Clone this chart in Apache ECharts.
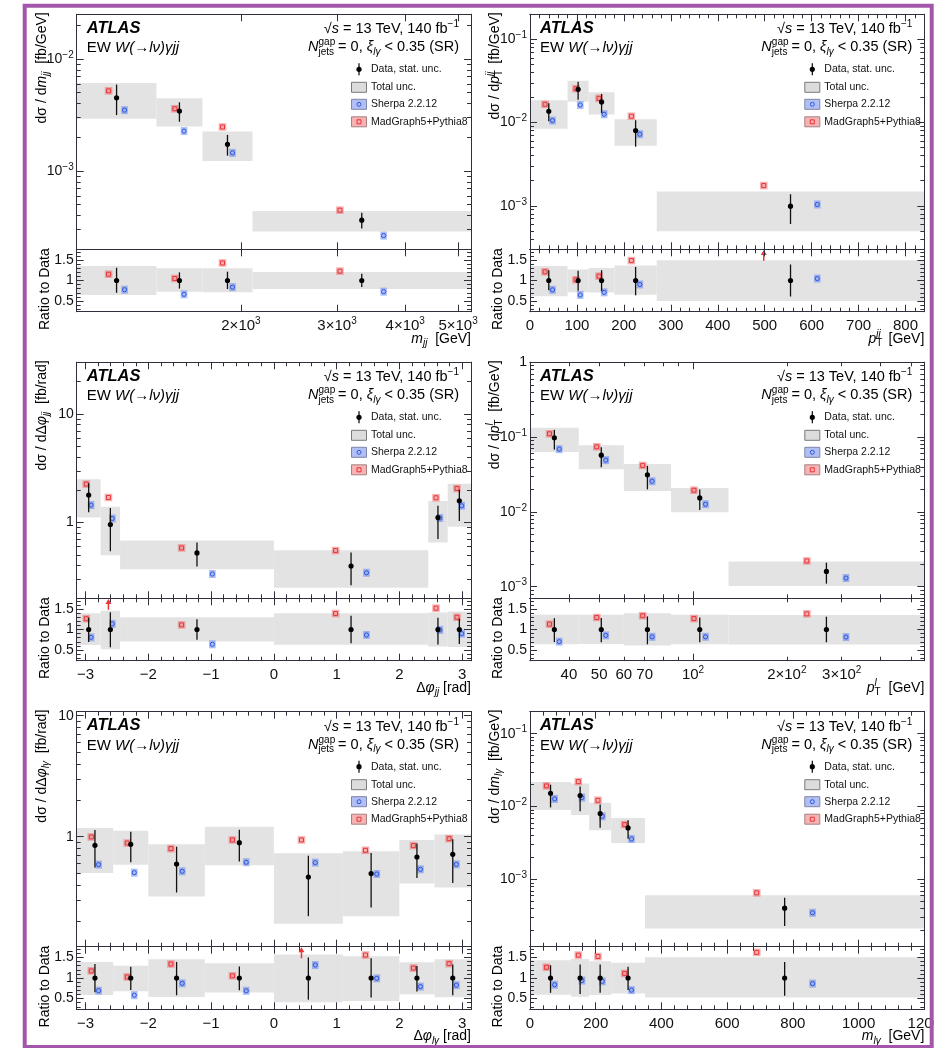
<!DOCTYPE html>
<html><head><meta charset="utf-8">
<script src="https://cdn.jsdelivr.net/npm/echarts@6/dist/echarts.min.js"></script>
<style>html,body{margin:0;padding:0;background:#fff}#c{width:944px;height:1048px}</style>
</head><body><div id="c"></div>
<script>
// ================= DATA =================
// m_jj
const mjjEdges = [1000, 1400, 1700, 2100, 5280];
const mjjData = [4.50e-3, 3.42e-3, 1.73e-3, 3.64e-4];
const mjjStatLo = [3.15e-3, 2.75e-3, 1.37e-3, 3.07e-4];
const mjjStatHi = [5.90e-3, 4.10e-3, 2.10e-3, 4.23e-4];
const mjjTotLo = [2.92e-3, 2.49e-3, 1.23e-3, 2.88e-4];
const mjjTotHi = [6.08e-3, 4.45e-3, 2.25e-3, 4.40e-4];
const mjjSherpa = [3.49e-3, 2.27e-3, 1.45e-3, 2.65e-4];
const mjjMadGraph = [5.19e-3, 3.59e-3, 2.47e-3, 4.47e-4];
const mjjXTicks = [2000, 3000, 4000, 5000];
const mjjYTicks = [1e-3, 1e-2];
// pT^jj
const ptjjEdges = [0, 80, 125, 180, 270, 840];
const ptjjData = [0.01368, 0.0251, 0.01768, 8.02e-3, 9.9e-4];
const ptjjStatLo = [0.0104, 0.01877, 0.01308, 5.13e-3, 6.04e-4];
const ptjjStatHi = [0.0171, 0.0310, 0.0221, 0.01067, 1.376e-3];
const ptjjTotLo = [8.40e-3, 0.01784, 0.01246, 5.26e-3, 4.96e-4];
const ptjjTotHi = [0.01852, 0.0318, 0.02309, 0.01096, 1.48e-3];
const ptjjSherpa = [0.01057, 0.01628, 0.01258, 7.25e-3, 1.037e-3];
const ptjjMadGraph = [0.01658, 0.02553, 0.01956, 0.01191, 1.75e-3];
const ptjjXTicks = [0, 100, 200, 300, 400, 500, 600, 700, 800];
const ptjjYTicks = [1e-3, 1e-2, 1e-1];
// delta phi_jj
const dphijjEdges = [-3.1416, -2.76, -2.45, 0, 2.46, 2.77, 3.1416];
const dphijjData = [1.79, 0.958, 0.524, 0.397, 1.112, 1.587];
const dphijjStatLo = [1.24, 0.543, 0.392, 0.264, 0.705, 1.03];
const dphijjStatHi = [2.30, 1.36, 0.655, 0.53, 1.43, 2.0];
const dphijjTotLo = [1.11, 0.498, 0.370, 0.25, 0.653, 0.912];
const dphijjTotHi = [2.50, 1.397, 0.681, 0.554, 1.575, 2.28];
const dphijjSherpa = [1.447, 1.089, 0.335, 0.344, 1.10, 1.427];
const dphijjMadGraph = [2.26, 1.70, 0.583, 0.551, 1.69, 2.06];
const dphiXTicks = [-3, -2, -1, 0, 1, 2, 3];
const dphijjYTicks = [1, 10];
// pT^l
const ptlEdges = [30, 43, 60, 85, 130, 552];
const ptlData = [0.098, 0.0574, 0.0313, 0.0154, 1.60e-3];
const ptlStatLo = [0.068, 0.0396, 0.020, 0.0106, 1.1e-3];
const ptlStatHi = [0.125, 0.0734, 0.0413, 0.0199, 2.1e-3];
const ptlTotLo = [0.0630, 0.0372, 0.0191, 0.0099, 1.02e-3];
const ptlTotHi = [0.1335, 0.078, 0.0437, 0.0209, 2.17e-3];
const ptlSherpa = [0.069, 0.0492, 0.0257, 0.01267, 1.306e-3];
const ptlMadGraph = [0.1108, 0.0742, 0.0418, 0.0195, 2.21e-3];
const ptlXTicks = [40, 50, 60, 70, 100, 200, 300];
const ptlYTicks = [1e-3, 1e-2, 1e-1, 1];
// delta phi_lgamma
const dphilyEdges = [-3.1416, -2.56, -2.0, -1.1, 0, 1.1, 2.0, 2.56, 3.1416];
const dphilyData = [0.848, 0.864, 0.594, 0.892, 0.464, 0.495, 0.679, 0.714];
const dphilyStatLo = [0.555, 0.613, 0.345, 0.624, 0.220, 0.260, 0.455, 0.414];
const dphilyStatHi = [1.136, 1.10, 0.826, 1.142, 0.696, 0.733, 0.876, 0.95];
const dphilyTotLo = [0.50, 0.585, 0.32, 0.58, 0.19, 0.22, 0.41, 0.38];
const dphilyTotHi = [1.18, 1.12, 0.864, 1.21, 0.728, 0.757, 0.939, 1.04];
const dphilySherpa = [0.587, 0.504, 0.517, 0.614, 0.61, 0.491, 0.537, 0.59];
const dphilyMadGraph = [0.994, 0.886, 0.796, 0.939, 0.939, 0.771, 0.843, 0.963];
const dphilyYTicks = [1, 10];
// m_lgamma
const mlyEdges = [0, 125, 180, 247, 350, 1200];
const mlyData = [0.01523, 0.01415, 8.02e-3, 5.1e-3, 4.05e-4];
const mlyStatLo = [9.75e-3, 8.63e-3, 5.13e-3, 3.62e-3, 2.31e-4];
const mlyStatHi = [0.01995, 0.01882, 0.01067, 6.5e-3, 5.63e-4];
const mlyTotLo = [9.0e-3, 7.7e-3, 4.73e-3, 3.18e-3, 2.13e-4];
const mlyTotHi = [0.0218, 0.0207, 0.0113, 7.0e-3, 6.1e-4];
const mlySherpa = [0.01274, 0.01328, 7.37e-3, 3.6e-3, 3.5e-4];
const mlyMadGraph = [0.0192, 0.0220, 0.0122, 5.67e-3, 6.57e-4];
const mlyXTicks = [0, 200, 400, 600, 800, 1000, 1200];
const mlyYTicks = [1e-3, 1e-2, 1e-1];
// ratio panels
const ratioTicks = [0.5, 1, 1.5];
const legendLabels = ['Data, stat. unc.', 'Total unc.', 'Sherpa 2.2.12', 'MadGraph5+Pythia8'];

// ================= STYLE / LAYOUT =================
const FONT = '"Liberation Sans", Arial, Helvetica, sans-serif';
const AXC = '#30303c';
const TMAJ = 7, TMIN = 4;
const RATIO_RANGE = [0.24, 1.76];
const RED = '#e8343a', BLUE = '#2a55e5';

function rnd(v){ return Math.round(v * 1e6) / 1e6; }
function linTicks(a, b, step, skip){ const o=[]; for (let v=Math.ceil(a/step-1e-9)*step; v<=b+1e-9; v+=step){ const r=rnd(v); if (!skip || Math.abs(r/skip - Math.round(r/skip))>1e-6) o.push(r);} return o; }
function logMinor(a, b){ const o=[]; for (let e=-6;e<=3;e++) for (let k=2;k<=9;k++){ const v=rnd(k*Math.pow(10,e)); if (v>=a && v<=b) o.push(v);} return o; }
const ratioMinor = linTicks(0.3, 1.7, 0.1, 0.5);

function minusStr(v){ return v < 0 ? '\u2212' + (-v) : String(v); }
function powFmt(v){ if (Math.abs(v-1)<1e-9) return '{b|1}'; if (Math.abs(v-10)<1e-9) return '{b|10}'; const e=Math.round(Math.log10(v)); return '{b|10}{s|\u2212'+(-e)+'}'; }

const PANELS = [
 {f:{L:76.7,R:471,T:14.3,S:249.3,B:311.7}, edges:mjjEdges, data:mjjData, sLo:mjjStatLo, sHi:mjjStatHi, tLo:mjjTotLo, tHi:mjjTotHi, sh:mjjSherpa, mg:mjjMadGraph,
  xType:'log', xr:[1000,5280], yr:[2e-4,0.025], xLab:mjjXTicks, xMaj:[1000,2000,3000,4000,5000], xMin:[], yLab:mjjYTicks,
  xFmt: v => '{b|'+(v/1000)+'\u00d710}{s|3}',
  yTitle:'{n|d\u03c3 / d}{i|m}{sub|jj}{n|  [fb/GeV]}', xTitle:'{i|m}{sub|jj}{n|  [GeV]}'},
 {f:{L:530,R:924.3,T:14.3,S:249.3,B:311.7}, edges:ptjjEdges, data:ptjjData, sLo:ptjjStatLo, sHi:ptjjStatHi, tLo:ptjjTotLo, tHi:ptjjTotHi, sh:ptjjSherpa, mg:ptjjMadGraph,
  xType:'value', xr:[0,840], yr:[3e-4,0.2], xLab:ptjjXTicks, xMaj:linTicks(0,840,100), xMin:linTicks(0,840,20,100), yLab:ptjjYTicks,
  xFmt: v => '{b|'+v+'}',
  yTitle:'{n|d\u03c3 / d}{i|p}{subzu|T}{sup|jj}{n|  [fb/GeV]}', xTitle:'{i|p}{subzu|T}{sup|jj}{n|  [GeV]}'},
 {f:{L:76.7,R:471,T:362.3,S:598.3,B:660.7}, edges:dphijjEdges, data:dphijjData, sLo:dphijjStatLo, sHi:dphijjStatHi, tLo:dphijjTotLo, tHi:dphijjTotHi, sh:dphijjSherpa, mg:dphijjMadGraph,
  xType:'value', xr:[-Math.PI,Math.PI], yr:[0.2,30], xLab:dphiXTicks, xMaj:linTicks(-3.2,3.2,1), xMin:linTicks(-3.2,3.2,0.2,1), yLab:dphijjYTicks,
  xFmt: v => '{b|'+minusStr(v)+'}',
  yTitle:'{n|d\u03c3 / d\u0394}{i|\u03c6}{sub|jj}{n|  [fb/rad]}', xTitle:'{n|\u0394}{i|\u03c6}{sub|jj}{n| [rad]}'},
 {f:{L:530,R:924.3,T:362.3,S:598.3,B:660.7}, edges:ptlEdges, data:ptlData, sLo:ptlStatLo, sHi:ptlStatHi, tLo:ptlTotLo, tHi:ptlTotHi, sh:ptlSherpa, mg:ptlMadGraph,
  xType:'log', xr:[30,552], yr:[7e-4,1], xLab:ptlXTicks, xMaj:[100], xMin:[40,50,60,70,80,90,200,300,400,500], yLab:ptlYTicks,
  xFmt: v => v<100 ? '{b|'+v+'}' : (v===100 ? '{b|10}{s|2}' : '{b|'+(v/100)+'\u00d710}{s|2}'),
  yTitle:'{n|d\u03c3 / d}{i|p}{supz|l}{subu|T}{n|  [fb/GeV]}', xTitle:'{i|p}{supz|l}{subu|T}{n|  [GeV]}'},
 {f:{L:76.7,R:471,T:711.7,S:946.7,B:1009.3}, edges:dphilyEdges, data:dphilyData, sLo:dphilyStatLo, sHi:dphilyStatHi, tLo:dphilyTotLo, tHi:dphilyTotHi, sh:dphilySherpa, mg:dphilyMadGraph,
  xType:'value', xr:[-Math.PI,Math.PI], yr:[0.123,10.8], xLab:dphiXTicks, xMaj:linTicks(-3.2,3.2,1), xMin:linTicks(-3.2,3.2,0.2,1), yLab:dphilyYTicks,
  xFmt: v => '{b|'+minusStr(v)+'}',
  yTitle:'{n|d\u03c3 / d\u0394}{i|\u03c6}{sub|l\u03b3}{n|  [fb/rad]}', xTitle:'{n|\u0394}{i|\u03c6}{sub|l\u03b3}{n| [rad]}'},
 {f:{L:530,R:924.3,T:711.7,S:946.7,B:1009.3}, edges:mlyEdges, data:mlyData, sLo:mlyStatLo, sHi:mlyStatHi, tLo:mlyTotLo, tHi:mlyTotHi, sh:mlySherpa, mg:mlyMadGraph,
  xType:'value', xr:[0,1200], yr:[1.2e-4,0.2], xLab:mlyXTicks, xMaj:linTicks(0,1200,200), xMin:linTicks(0,1200,40,200), yLab:mlyYTicks,
  xFmt: v => '{b|'+v+'}',
  yTitle:'{n|d\u03c3 / d}{i|m}{sub|l\u03b3}{n|  [fb/GeV]}', xTitle:'{i|m}{sub|l\u03b3}{n|  [GeV]}'}
];
PANELS.forEach(p => { p.yMaj = p.yLab; p.yMinT = logMinor(p.yr[0], p.yr[1]); });

function axisRich(sz){ const s=Math.round(sz*0.68); return { b:{fontSize:sz, fontFamily:FONT, color:'#111', lineHeight:sz+4}, s:{fontSize:s, fontFamily:FONT, color:'#111', lineHeight:s, verticalAlign:'top'} }; }

function mkAxis(gi, pos, type, range, ticks, len, labels, fmt, lsz, margin){
  const a = { type:type, gridIndex:gi, position:pos, min:range[0], max:range[1], z:10,
    axisLine:{show:true, onZero:false, lineStyle:{color:AXC, width:1}},
    axisTick:{show:ticks.length>0, inside:true, length:len, customValues:ticks, lineStyle:{color:AXC, width:1}},
    axisLabel: labels ? {show:true, customValues:labels, formatter:fmt, margin:margin, rich:axisRich(lsz), color:'#111', fontFamily:FONT, fontSize:lsz} : {show:false},
    splitLine:{show:false}, minorTick:{show:false}, minorSplitLine:{show:false}, silent:true };
  if (type==='log') a.logBase = 10;
  return a;
}

const grids=[], xAxes=[], yAxes=[], series=[], graphics=[];

function addGrid(p, isRatio){
  const f = p.f, gi = grids.length;
  const top = isRatio ? f.S : f.T, bot = isRatio ? f.B : f.S;
  grids.push({left:f.L, top:top, width:f.R-f.L, height:bot-top, show:false, containLabel:false, outerBoundsMode:'none'});
  const xi = xAxes.length;
  xAxes.push(mkAxis(gi,'bottom',p.xType,p.xr,p.xMaj,TMAJ, isRatio?p.xLab:null, p.xFmt, 15, 5));
  xAxes.push(mkAxis(gi,'bottom',p.xType,p.xr,p.xMin,TMIN,null));
  xAxes.push(mkAxis(gi,'top',p.xType,p.xr,p.xMaj,TMAJ,null));
  xAxes.push(mkAxis(gi,'top',p.xType,p.xr,p.xMin,TMIN,null));
  const yi = yAxes.length;
  const yType = isRatio ? 'value' : 'log', yr = isRatio ? RATIO_RANGE : p.yr;
  const yMaj = isRatio ? ratioTicks : p.yMaj, yMin = isRatio ? ratioMinor : p.yMinT;
  yAxes.push(mkAxis(gi,'left',yType,yr,yMaj,TMAJ, isRatio?ratioTicks:p.yLab, isRatio ? (v=>'{b|'+v+'}') : powFmt, 14, 3));
  yAxes.push(mkAxis(gi,'left',yType,yr,yMin,TMIN,null));
  yAxes.push(mkAxis(gi,'right',yType,yr,yMaj,TMAJ,null));
  yAxes.push(mkAxis(gi,'right',yType,yr,yMin,TMIN,null));
  return [xi, yi];
}

function bandSeries(xi, yi, items){
  return {type:'custom', xAxisIndex:xi, yAxisIndex:yi, clip:true, z:2, silent:true, animation:false,
    encode:{x:[0,1], y:[2,3]}, data:items,
    renderItem:function(params, api){
      const a = api.coord([api.value(0), api.value(2)]);
      const b = api.coord([api.value(1), api.value(3)]);
      return {type:'rect', shape:{x:a[0], y:b[1], width:b[0]-a[0], height:a[1]-b[1]}, style:{fill:'#e3e3e3'}};
    }};
}
function mcSeries(xi, yi, items, side, isRatio){
  return {type:'custom', xAxisIndex:xi, yAxisIndex:yi, clip:false, z:3, silent:true, animation:false,
    encode:{x:[0,1], y:2}, data:items,
    renderItem:function(params, api){
      const val = api.value(2);
      const a = api.coord([api.value(0), isRatio?1:val]);
      const b = api.coord([api.value(1), isRatio?1:val]);
      const w = b[0]-a[0];
      const xc = (a[0]+b[0])/2 + side*0.1*w;
      if (isRatio && val > RATIO_RANGE[1]-0.02){
        const y0 = api.coord([api.value(0), 1.48])[1], y1 = api.coord([api.value(0), 1.745])[1];
        return {type:'group', children:[
          {type:'line', shape:{x1:xc,y1:y0,x2:xc,y2:y1+4}, style:{stroke:RED, lineWidth:1.5}},
          {type:'polygon', shape:{points:[[xc-3,y1+5],[xc+3,y1+5],[xc,y1]]}, style:{fill:RED}}]};
      }
      const yc = isRatio ? api.coord([api.value(0), val])[1] : a[1];
      if (side < 0){
        return {type:'group', children:[
          {type:'rect', shape:{x:xc-3.8, y:yc-3.8, width:7.6, height:7.6}, style:{fill:'rgba(238,100,100,0.5)'}},
          {type:'rect', shape:{x:xc-2, y:yc-2, width:4, height:4}, style:{fill:'none', stroke:RED, lineWidth:1}}]};
      }
      return {type:'group', children:[
        {type:'rect', shape:{x:xc-3.3, y:yc-4, width:6.6, height:8}, style:{fill:'rgba(90,125,235,0.5)'}},
        {type:'circle', shape:{cx:xc, cy:yc, r:2.1}, style:{fill:'none', stroke:BLUE, lineWidth:1}}]};
    }};
}
function dataSeries(xi, yi, items){
  return {type:'custom', xAxisIndex:xi, yAxisIndex:yi, clip:false, z:4, silent:true, animation:false,
    encode:{x:[0,1], y:[2,3,4]}, data:items,
    renderItem:function(params, api){
      const a = api.coord([api.value(0), api.value(2)]);
      const b = api.coord([api.value(1), api.value(2)]);
      const xc = (a[0]+b[0])/2;
      const yl = api.coord([api.value(0), api.value(3)])[1];
      const yh = api.coord([api.value(0), api.value(4)])[1];
      return {type:'group', children:[
        {type:'line', shape:{x1:xc,y1:yl,x2:xc,y2:yh}, style:{stroke:'#111', lineWidth:1.3}},
        {type:'circle', shape:{cx:xc, cy:a[1], r:2.6}, style:{fill:'#000'}}]};
    }};
}

function gRich(sz){
  const s = Math.round(sz*0.7);
  const b = {fontFamily:FONT, fill:'#000', align:'left'};
  const L = sz+5;
  return {
    n:Object.assign({}, b, {fontSize:sz, lineHeight:L}),
    i:Object.assign({}, b, {fontSize:sz, fontStyle:'italic', lineHeight:L}),
    bi:Object.assign({}, b, {fontSize:sz, fontStyle:'italic', fontWeight:'bold', lineHeight:L}),
    sub:Object.assign({}, b, {fontSize:s, fontStyle:'italic', lineHeight:s, verticalAlign:'bottom'}),
    subu:Object.assign({}, b, {fontSize:s, lineHeight:s, verticalAlign:'bottom'}),
    subzu:Object.assign({}, b, {fontSize:s, lineHeight:s, verticalAlign:'bottom', width:0}),
    sup:Object.assign({}, b, {fontSize:s, fontStyle:'italic', lineHeight:s, verticalAlign:'top'}),
    supu:Object.assign({}, b, {fontSize:s, lineHeight:s, verticalAlign:'top'}),
    supz:Object.assign({}, b, {fontSize:s, fontStyle:'italic', lineHeight:s, verticalAlign:'top', width:0}),
    supzu:Object.assign({}, b, {fontSize:s, lineHeight:s, verticalAlign:'top', width:0})
  };
}
function txt(x, y, text, sz, align, rot){
  const el = {type:'text', x:x, y:y, z:50, silent:true,
    style:{text:text, rich:gRich(sz), align:align||'left', verticalAlign:'middle', fontFamily:FONT, fontSize:sz, fill:'#000'}};
  if (rot) el.rotation = rot;
  return el;
}

PANELS.forEach(p => {
  const n = p.data.length;
  const idx = [...Array(n).keys()];
  const lo = i => p.edges[i], hi = i => p.edges[i+1];
  // main
  let [xi, yi] = addGrid(p, false);
  series.push(bandSeries(xi, yi, idx.map(i => [lo(i), hi(i), p.tLo[i], p.tHi[i]])));
  series.push(mcSeries(xi, yi, idx.map(i => [lo(i), hi(i), p.mg[i]]), -1, false));
  series.push(mcSeries(xi, yi, idx.map(i => [lo(i), hi(i), p.sh[i]]), 1, false));
  series.push(dataSeries(xi, yi, idx.map(i => [lo(i), hi(i), p.data[i], p.sLo[i], p.sHi[i]])));
  // ratio
  [xi, yi] = addGrid(p, true);
  series.push(bandSeries(xi, yi, idx.map(i => [lo(i), hi(i), p.tLo[i]/p.data[i], p.tHi[i]/p.data[i]])));
  series.push(mcSeries(xi, yi, idx.map(i => [lo(i), hi(i), p.mg[i]/p.data[i]]), -1, true));
  series.push(mcSeries(xi, yi, idx.map(i => [lo(i), hi(i), p.sh[i]/p.data[i]]), 1, true));
  series.push(dataSeries(xi, yi, idx.map(i => [lo(i), hi(i), 1, p.sLo[i]/p.data[i], p.sHi[i]/p.data[i]])));

  const f = p.f;
  // header texts
  graphics.push(txt(f.L+10, f.T+14, '{bi|ATLAS}', 16.5));
  graphics.push(txt(f.L+10, f.T+34, '{n|EW }{i|W(\u2192l\u03bd)\u03b3jj}', 15));
  graphics.push(txt(f.R-12, f.T+15, '{n|\u221a}{i|s}{n| = 13 TeV, 140 fb}{supu|\u22121}', 14.5, 'right'));
  graphics.push(txt(f.R-12, f.T+33, '{i|N}{supzu|gap}{subu|jets}{n| = 0, }{i|\u03be}{sub|l\u03b3}{n| < 0.35 (SR)}', 14.5, 'right'));
  // legend
  const xs = f.R-112, xt = f.R-100, rows = [55, 73, 90, 107.5].map(d => f.T+d);
  graphics.push({type:'line', z:50, silent:true, shape:{x1:xs,y1:rows[0]-6,x2:xs,y2:rows[0]+6}, style:{stroke:'#000', lineWidth:1.2}});
  graphics.push({type:'circle', z:50, silent:true, shape:{cx:xs,cy:rows[0],r:2.6}, style:{fill:'#000'}});
  graphics.push({type:'rect', z:50, silent:true, shape:{x:xs-7.5,y:rows[1]-5,width:15,height:10}, style:{fill:'#dcdcdc', stroke:'#7a7a7a', lineWidth:1}});
  graphics.push({type:'rect', z:50, silent:true, shape:{x:xs-7.5,y:rows[2]-5,width:15,height:10}, style:{fill:'#b2bff2', stroke:'#7d86a8', lineWidth:1}});
  graphics.push({type:'circle', z:51, silent:true, shape:{cx:xs,cy:rows[2],r:2}, style:{fill:'none', stroke:BLUE, lineWidth:1}});
  graphics.push({type:'rect', z:50, silent:true, shape:{x:xs-7.5,y:rows[3]-5,width:15,height:10}, style:{fill:'#f5b3b3', stroke:'#a88080', lineWidth:1}});
  graphics.push({type:'rect', z:51, silent:true, shape:{x:xs-2,y:rows[3]-2,width:4,height:4}, style:{fill:'none', stroke:RED, lineWidth:1}});
  legendLabels.forEach((t, k) => graphics.push({type:'text', z:50, silent:true, x:xt, y:rows[k],
    style:{text:t, fontFamily:FONT, fontSize:10.5, fill:'#111', verticalAlign:'middle', align:'left'}}));
  // axis titles
  graphics.push(txt(f.L-35, f.T-2, p.yTitle, 14, 'right', Math.PI/2));
  graphics.push(txt(f.L-32, f.S-1, '{n|Ratio to Data}', 14, 'right', Math.PI/2));
  graphics.push(txt(f.R, f.B+27, p.xTitle, 14, 'right'));
});

// frame border (purple) and cover outside
graphics.push({type:'rect', z:90, silent:true, shape:{x:933.7, y:0, width:12, height:1048}, style:{fill:'#fff'}});
graphics.push({type:'rect', z:91, silent:true, shape:{x:24.7, y:5.8, width:907, height:1041.2}, style:{fill:'none', stroke:'#a457aa', lineWidth:4}});

const chart = echarts.init(document.getElementById('c'), null, {renderer:'canvas'});
chart.setOption({
  backgroundColor:'#ffffff', animation:false,
  grid:grids, xAxis:xAxes, yAxis:yAxes, series:series, graphic:{elements:graphics}
});
</script></body></html>
